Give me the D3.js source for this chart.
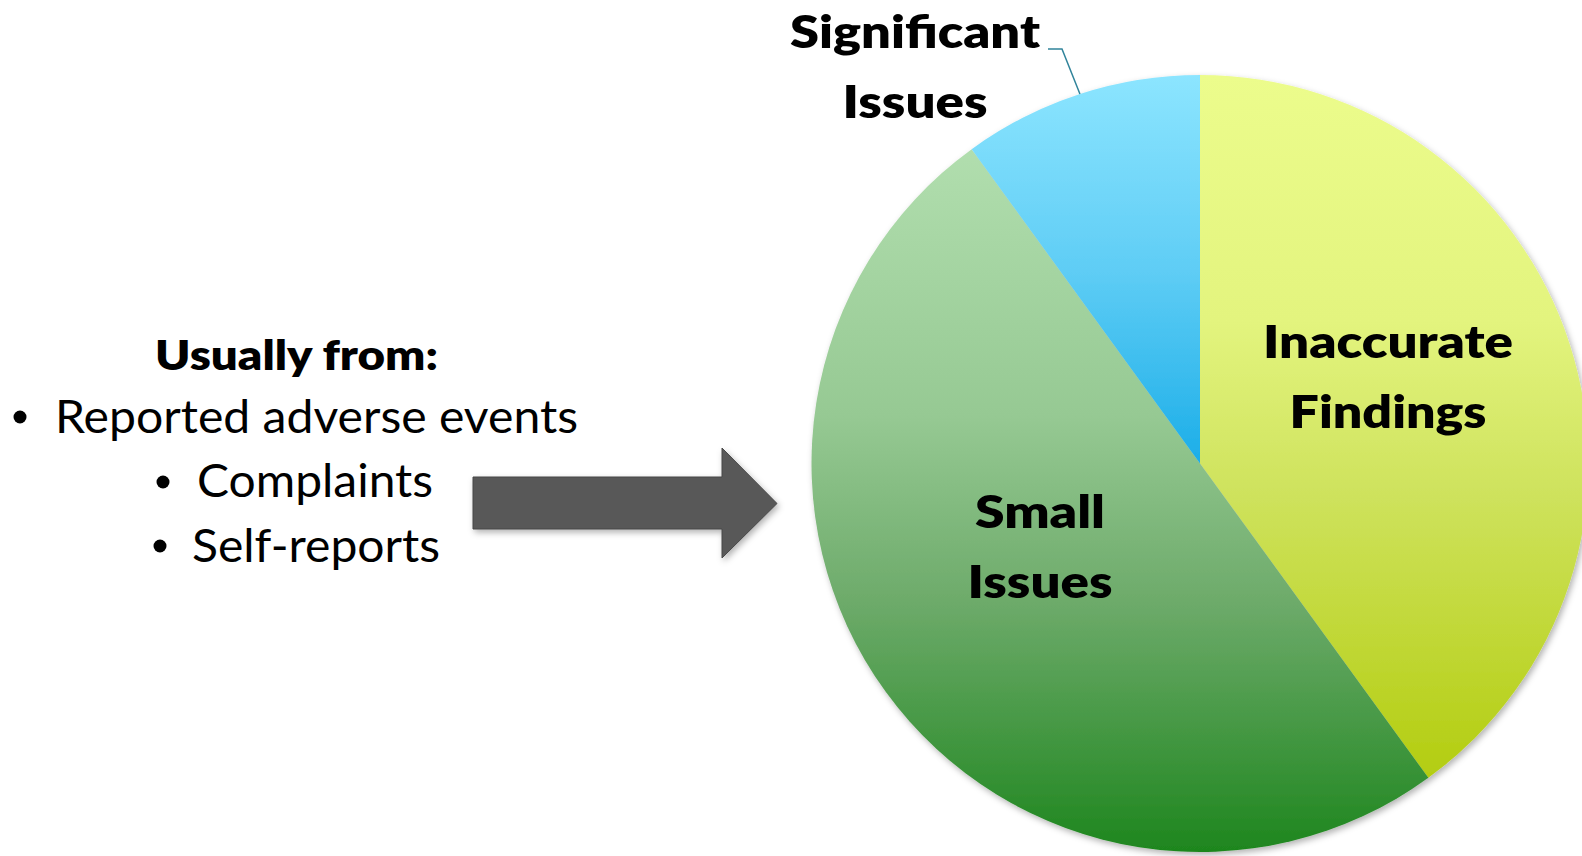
<!DOCTYPE html>
<html>
<head>
<meta charset="utf-8">
<script src="https://cdn.jsdelivr.net/npm/d3@7"></script>
<style>
  html, body { margin: 0; padding: 0; background: #fff; }
  svg { display: block; }
  text { font-family: Lato, "Open Sans", sans-serif; fill: #000; }
</style>
</head>
<body>
<div id="chart"></div>
<script>
// --- data ---
const categories = ['Inaccurate Findings', 'Small Issues', 'Significant Issues'];
const values = [40, 50, 10];
const labelLines = [['Inaccurate', 'Findings'], ['Small', 'Issues'], ['Significant', 'Issues']];
const heading = 'Usually from:';
const bulletItems = ['Reported adverse events', 'Complaints', 'Self-reports'];

// --- layout ---
const width = 1582, height = 856;
const cx = 1200, cy = 463.5, radius = 388.5;

// gradient stops per slice (top -> bottom)
const sliceStops = {
  'Inaccurate Findings': [[0, '#ecfc8c'], [0.35, '#e3f47e'], [0.6, '#cee25c'], [1, '#b3cd10']],
  'Small Issues': [[0, '#b1deae'], [0.38, '#96c993'], [0.65, '#6caa69'], [1, '#1e861e']],
  'Significant Issues': [[0, '#8ce5ff'], [0.5, '#5fcdf5'], [1, '#1caee8']],
};
// label anchor: centre x, first baseline; widths of lines as drawn
const labelLayout = {
  'Inaccurate Findings': { x: 1388, y: 358, w: [250, 197] },
  'Small Issues': { x: 1040, y: 528, w: [130, 145] },
  'Significant Issues': { x: 915, y: 48, w: [250, 145] },
};
const lineGap = 70;

const svg = d3.select('#chart').append('svg')
  .attr('width', width)
  .attr('height', height);

const defs = svg.append('defs');

const shadow = defs.append('filter').attr('id', 'shadow')
  .attr('x', '-10%').attr('y', '-10%').attr('width', '120%').attr('height', '120%');
shadow.append('feDropShadow')
  .attr('dx', 2).attr('dy', 3).attr('stdDeviation', 3)
  .attr('flood-color', '#000').attr('flood-opacity', 0.3);

categories.forEach((c, i) => {
  const g = defs.append('linearGradient')
    .attr('id', `grad${i}`)
    .attr('x1', 0).attr('y1', 0).attr('x2', 0).attr('y2', 1);
  sliceStops[c].forEach(([o, col]) => {
    g.append('stop').attr('offset', o).attr('stop-color', col);
  });
});

// --- pie ---
const pie = d3.pie().sort(null).value(d => d.value);
const arcs = pie(categories.map((c, i) => ({ name: c, value: values[i], idx: i })));
const arc = d3.arc().innerRadius(0).outerRadius(radius);
const rim = d3.arc().innerRadius(radius).outerRadius(radius);

const pieG = svg.append('g')
  .attr('transform', `translate(${cx},${cy})`);

pieG.append('g')
  .attr('filter', 'url(#shadow)')
  .selectAll('path')
  .data(arcs)
  .join('path')
  .attr('d', arc)
  .attr('fill', d => `url(#grad${d.data.idx})`);

// leader line for the small outside label
const sig = arcs.find(d => d.data.name === 'Significant Issues');
const [ex, ey] = rim.centroid(sig);
const sigLab = labelLayout['Significant Issues'];
const lx0 = sigLab.x + sigLab.w[0] / 2 + 8 - cx;
const ly0 = sigLab.y + 1 - cy;
pieG.append('path')
  .attr('d', d3.line()([[lx0, ly0], [lx0 + 14, ly0], [ex, ey]]))
  .attr('fill', 'none')
  .attr('stroke', '#31849b')
  .attr('stroke-width', 1.5);

// slice labels
arcs.forEach(d => {
  const L = labelLayout[d.data.name];
  labelLines[d.data.idx].forEach((t, j) => {
    svg.append('text')
      .attr('x', L.x)
      .attr('y', L.y + j * lineGap)
      .attr('text-anchor', 'middle')
      .attr('font-size', 46)
      .attr('font-weight', 800)
      .attr('textLength', L.w[j])
      .attr('lengthAdjust', 'spacingAndGlyphs')
      .text(t);
  });
});

// --- left text block ---
svg.append('text')
  .attr('x', 155).attr('y', 370)
  .attr('font-size', 42)
  .attr('font-weight', 800)
  .attr('textLength', 283)
  .attr('lengthAdjust', 'spacingAndGlyphs')
  .text(heading);

const bulletLayout = [
  { bx: 20, by: 417, x: 55, y: 433, w: 523 },
  { bx: 163, by: 482, x: 197, y: 497, w: 236 },
  { bx: 160, by: 546, x: 192, y: 562, w: 248 },
];
bulletItems.forEach((t, i) => {
  const b = bulletLayout[i];
  svg.append('circle')
    .attr('cx', b.bx).attr('cy', b.by).attr('r', 6.5)
    .attr('fill', '#000');
  svg.append('text')
    .attr('x', b.x).attr('y', b.y)
    .attr('font-size', 46)
    .attr('textLength', b.w)
    .attr('lengthAdjust', 'spacingAndGlyphs')
    .text(t);
});

// --- block arrow ---
const arrow = { x0: 473, x1: 722, x2: 777, top: 477, bot: 529, headTop: 448, headBot: 558 };
const mid = (arrow.top + arrow.bot) / 2;
svg.append('path')
  .attr('d', d3.line()([
    [arrow.x0, arrow.top], [arrow.x1, arrow.top], [arrow.x1, arrow.headTop],
    [arrow.x2, mid + 0.5], [arrow.x1, arrow.headBot], [arrow.x1, arrow.bot],
    [arrow.x0, arrow.bot]
  ]) + 'Z')
  .attr('fill', '#595959')
  .attr('stroke', '#474747')
  .attr('stroke-width', 1)
  .attr('filter', 'url(#shadow)');
</script>
</body>
</html>
